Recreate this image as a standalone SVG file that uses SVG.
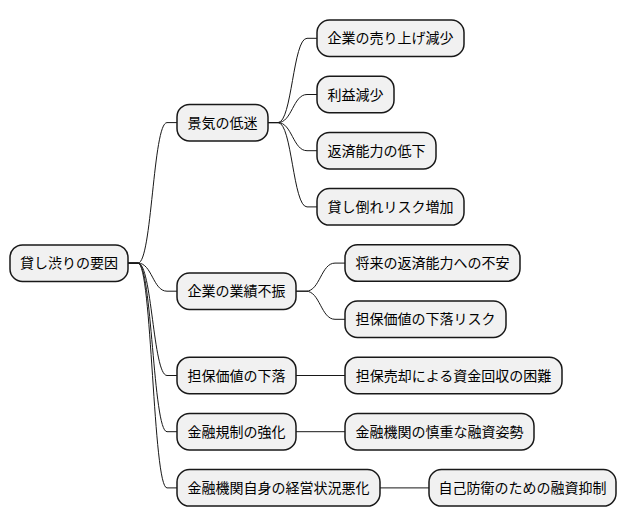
<svg xmlns="http://www.w3.org/2000/svg" width="628" height="527" viewBox="0 0 628 527">
<style>
.n rect{fill:#F1F1F1;stroke:#181818;stroke-width:1.5}
.n text{font-family:"Noto Sans CJK JP","Noto Sans CJK SC",sans-serif;font-size:14px;fill:#000;text-anchor:middle}
#edges path{fill:none;stroke:#181818;stroke-width:1}
</style>
<rect width="628" height="527" fill="#FFFFFF"/>
<g id="edges">
<path d="M128,263.1 L138,263.1 C152,263.1 153,122.6 167,122.6 L177,122.6"/>
<path d="M128,263.1 L138,263.1 C152,263.1 153,291.2 167,291.2 L177,291.2"/>
<path d="M128,263.1 L138,263.1 C152,263.1 153,375.5 167,375.5 L177,375.5"/>
<path d="M128,263.1 L138,263.1 C152,263.1 153,431.7 167,431.7 L177,431.7"/>
<path d="M128,263.1 L138,263.1 C152,263.1 153,487.9 167,487.9 L177,487.9"/>
<path d="M268,122.6 L278,122.6 C292,122.6 293,38.3 307,38.3 L317,38.3"/>
<path d="M268,122.6 L278,122.6 C292,122.6 293,94.5 307,94.5 L317,94.5"/>
<path d="M268,122.6 L278,122.6 C292,122.6 293,150.7 307,150.7 L317,150.7"/>
<path d="M268,122.6 L278,122.6 C292,122.6 293,206.9 307,206.9 L317,206.9"/>
<path d="M296,291.2 L306,291.2 C320,291.2 321,263.1 335,263.1 L345,263.1"/>
<path d="M296,291.2 L306,291.2 C320,291.2 321,319.3 335,319.3 L345,319.3"/>
<path d="M296,375.5 L345,375.5"/>
<path d="M296,431.7 L345,431.7"/>
<path d="M380,487.9 L429,487.9"/>
</g>
<g id="root" class="n"><rect x="10" y="244.9" width="118" height="36.5" rx="12.5"/><text x="69" y="268.1">貸し渋りの要因</text></g>
<g id="n1" class="n"><rect x="177" y="104.4" width="91" height="36.5" rx="12.5"/><text x="222.5" y="127.6">景気の低迷</text></g>
<g id="n2" class="n"><rect x="177" y="273" width="119" height="36.5" rx="12.5"/><text x="236.5" y="296.2">企業の業績不振</text></g>
<g id="n3" class="n"><rect x="177" y="357.2" width="119" height="36.5" rx="12.5"/><text x="236.5" y="380.5">担保価値の下落</text></g>
<g id="n4" class="n"><rect x="177" y="413.4" width="119" height="36.5" rx="12.5"/><text x="236.5" y="436.7">金融規制の強化</text></g>
<g id="n5" class="n"><rect x="177" y="469.6" width="203" height="36.5" rx="12.5"/><text x="278.5" y="492.9">金融機関自身の経営状況悪化</text></g>
<g id="n1a" class="n"><rect x="317" y="20" width="147" height="36.5" rx="12.5"/><text x="390.5" y="43.3">企業の売り上げ減少</text></g>
<g id="n1b" class="n"><rect x="317" y="76.2" width="77" height="36.5" rx="12.5"/><text x="355.5" y="99.5">利益減少</text></g>
<g id="n1c" class="n"><rect x="317" y="132.4" width="119" height="36.5" rx="12.5"/><text x="376.5" y="155.7">返済能力の低下</text></g>
<g id="n1d" class="n"><rect x="317" y="188.6" width="147" height="36.5" rx="12.5"/><text x="390.5" y="211.9">貸し倒れリスク増加</text></g>
<g id="n2a" class="n"><rect x="345" y="244.8" width="175" height="36.5" rx="12.5"/><text x="432.5" y="268.1">将来の返済能力への不安</text></g>
<g id="n2b" class="n"><rect x="345" y="301" width="161" height="36.5" rx="12.5"/><text x="425.5" y="324.3">担保価値の下落リスク</text></g>
<g id="n3a" class="n"><rect x="345" y="357.2" width="217" height="36.5" rx="12.5"/><text x="453.5" y="380.5">担保売却による資金回収の困難</text></g>
<g id="n4a" class="n"><rect x="345" y="413.4" width="189" height="36.5" rx="12.5"/><text x="439.5" y="436.7">金融機関の慎重な融資姿勢</text></g>
<g id="n5a" class="n"><rect x="429" y="469.6" width="187" height="36.5" rx="12.5"/><text x="522.5" y="492.9">自己防衛のための融資抑制</text></g>
</svg>
